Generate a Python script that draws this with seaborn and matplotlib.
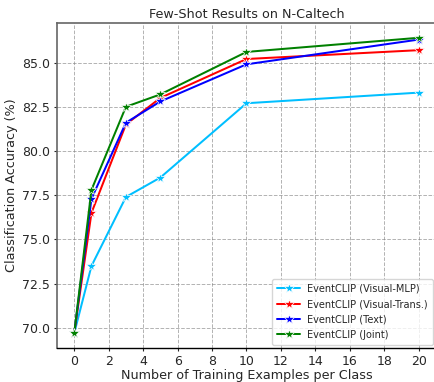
import matplotlib
matplotlib.use("Agg")
import matplotlib.pyplot as plt
import seaborn as sns
import pandas as pd

shots = [0, 1, 3, 5, 10, 20]
visual_mlp = [69.7, 73.5, 77.4, 78.5, 82.7, 83.3]
visual_trans = [69.7, 76.5, 81.5, 83.0, 85.2, 85.7]
text = [69.7, 77.3, 81.6, 82.8, 84.9, 86.3]
joint = [69.7, 77.8, 82.5, 83.2, 85.6, 86.4]

names = ["EventCLIP (Visual-MLP)", "EventCLIP (Visual-Trans.)",
         "EventCLIP (Text)", "EventCLIP (Joint)"]
series = [visual_mlp, visual_trans, text, joint]
colors = ["deepskyblue", "red", "blue", "green"]

rows = []
for n, s in zip(names, series):
    for x, y in zip(shots, s):
        rows.append({"shots": x, "acc": y, "method": n})
df = pd.DataFrame(rows)

sns.set_style("white")
plt.rcParams['font.family'] = ['DejaVu Sans']

fig = plt.figure(figsize=(4.35, 3.82), dpi=100)
ax = fig.add_axes([57/435, 1-348/382, (436-57)/435, (348-23)/382])

sns.lineplot(data=df, x="shots", y="acc", hue="method", hue_order=names,
             palette=colors, marker="*", markersize=7.5, markeredgewidth=0.5,
             linewidth=1.45, ax=ax)

ax.set_xticks(range(0, 21, 2))
ax.grid(True, linestyle="--", color="gray", alpha=0.6, linewidth=0.7)
ax.tick_params(axis="both", which="major", labelsize=9, length=2.5, pad=2.5,
               width=0.8, left=True, bottom=True)
ax.set_xlabel("Number of Training Examples per Class", fontsize=9.2, labelpad=1)
ax.set_ylabel("Classification Accuracy (%)", fontsize=9.2, labelpad=3)
ax.set_title("Few-Shot Results on N-Caltech", fontsize=9.2, pad=3.5)
for side in ["left", "top", "right"]:
    ax.spines[side].set_color("#666666")
    ax.spines[side].set_linewidth(1.2)
ax.spines["bottom"].set_color("black")
ax.spines["bottom"].set_linewidth(1.0)
leg = ax.legend(loc="lower right", fontsize=7, title=None, borderaxespad=0.35,
                handlelength=2.4, handletextpad=0.7, borderpad=0.5,
                labelspacing=0.55)

fig.savefig("out.png", dpi=100)
